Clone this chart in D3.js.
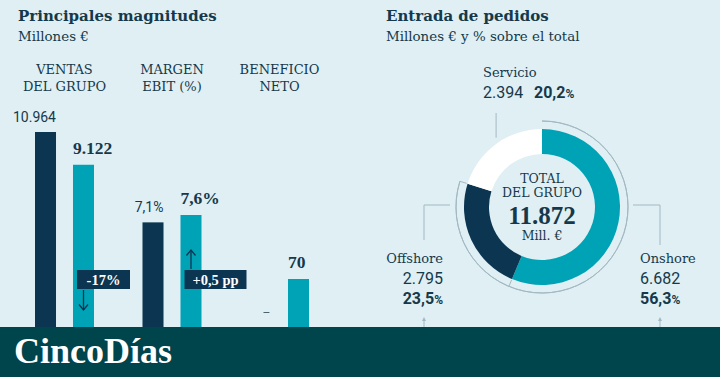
<!DOCTYPE html>
<html>
<head>
<meta charset="utf-8">
<script src="https://cdn.jsdelivr.net/npm/d3@7"></script>
<style>
  body { margin: 0; background: #dfeff4; }
  svg { display: block; }
</style>
</head>
<body>
<div id="chart"></div>
<script>
// datos: principales magnitudes
const categories = ["VENTAS|DEL GRUPO", "MARGEN|EBIT (%)", "BENEFICIO|NETO"];
const prevValues = [10964, 7.1, null];
const currValues = [9122, 7.6, 70];
const prevLabels = ["10.964", "7,1%", "–"];
const currLabels = ["9.122", "7,6%", "70"];
const changes = ["-17%", "+0,5 pp", null];
const changeDir = ["down", "up", null];

// datos: entrada de pedidos
const segments = ["Onshore", "Offshore", "Servicio"];
const segValues = [6682, 2795, 2394];
const segLabels = ["6.682", "2.795", "2.394"];
const segPct = ["56,3", "23,5", "20,2"];
const totalLabel = "11.872";

const W = 720, H = 377;
const dark = "#0b3551", teal = "#00a2b5", ink = "#15394a", grey = "#a3b9c1";
const serif = "'DejaVu Serif', serif";
const boldSerif = "'Liberation Serif', serif";
const sans = "Roboto, 'Open Sans', sans-serif";

const svg = d3.select("#chart").append("svg")
  .attr("width", W)
  .attr("height", H);

svg.append("rect").attr("width", W).attr("height", H).attr("fill", "#dfeff4");

// titulos
function heading(x, title, sub) {
  svg.append("text").attr("x", x).attr("y", 21)
    .style("font-family", serif).style("font-weight", "bold").style("font-size", "15px")
    .attr("fill", ink).text(title);
  svg.append("text").attr("x", x).attr("y", 41)
    .style("font-family", serif).style("font-size", "13.4px")
    .attr("fill", ink).text(sub);
}
heading(18, "Principales magnitudes", "Millones €");
heading(386, "Entrada de pedidos", "Millones € y % sobre el total");

// ---- barras ----
const baseY = 327;
const groupHeights = [195, 112, 48]; // altura del valor maximo de cada grupo
const badgeWidths = [53, 62];

const x0 = d3.scaleBand().domain(categories).range([10.75, 333.25]).padding(0);
const x1 = d3.scaleBand().domain(["prev", "curr"])
  .range([x0.bandwidth() / 2 - 29.5, x0.bandwidth() / 2 + 29.5])
  .paddingInner(0.447).paddingOuter(0);

const yScales = categories.map((c, i) => {
  const max = d3.max([prevValues[i], currValues[i]]);
  return d3.scaleLinear().domain([0, max]).range([baseY, baseY - groupHeights[i]]);
});

const groups = svg.selectAll(".grp")
  .data(categories)
  .enter().append("g")
  .attr("class", "grp")
  .attr("transform", d => "translate(" + x0(d) + ",0)");

// etiquetas de categoria
groups.each(function(d) {
  const parts = d.split("|");
  d3.select(this).selectAll(".cat")
    .data(parts).enter().append("text")
    .attr("x", x0.bandwidth() / 2)
    .attr("y", (l, j) => 74 + j * 17)
    .attr("text-anchor", "middle")
    .style("font-family", serif).style("font-size", "13px")
    .attr("fill", ink).text(l => l);
});

groups.each(function(d, i) {
  const g = d3.select(this);
  const y = yScales[i];
  const bw = x1.bandwidth();

  if (prevValues[i] != null) {
    g.append("rect")
      .attr("x", x1("prev")).attr("y", y(prevValues[i]))
      .attr("width", bw).attr("height", baseY - y(prevValues[i]))
      .attr("fill", dark);
    g.append("text")
      .attr("x", x1("prev") + bw).attr("y", y(prevValues[i]) - 10)
      .attr("text-anchor", "end")
      .style("font-family", sans).style("font-size", "14px")
      .attr("fill", ink).text(prevLabels[i]);
  } else {
    g.append("text")
      .attr("x", x1("prev") + bw / 2 + 6).attr("y", baseY - 10)
      .attr("text-anchor", "middle")
      .style("font-family", sans).style("font-size", "12px")
      .attr("fill", "#4a6470").text(prevLabels[i]);
  }

  g.append("rect")
    .attr("x", x1("curr")).attr("y", y(currValues[i]))
    .attr("width", bw).attr("height", baseY - y(currValues[i]))
    .attr("fill", teal);
  g.append("text")
    .attr("x", x1("curr")).attr("y", y(currValues[i]) - 11)
    .style("font-family", boldSerif).style("font-weight", "bold").style("font-size", "17.5px")
    .attr("fill", ink).text(currLabels[i]);

  if (changes[i]) {
    const bx = x1("curr") + 4;
    const tw = badgeWidths[i];
    g.append("rect")
      .attr("x", bx).attr("y", 270)
      .attr("width", tw).attr("height", 19)
      .attr("fill", dark);
    g.append("text")
      .attr("x", bx + tw / 2).attr("y", 284.5)
      .attr("text-anchor", "middle")
      .style("font-family", boldSerif).style("font-weight", "bold").style("font-size", "14.5px")
      .attr("fill", "#fff").text(changes[i]);

    const ax = x1("curr") + 10.5;
    const arrow = g.append("g").attr("stroke", dark).attr("stroke-width", 1.3).attr("fill", "none");
    if (changeDir[i] === "down") {
      arrow.append("line").attr("x1", ax).attr("x2", ax).attr("y1", 290).attr("y2", 310);
      arrow.append("path").attr("d", "M" + (ax - 4.5) + ",304.5L" + ax + ",310L" + (ax + 4.5) + ",304.5");
    } else {
      arrow.append("line").attr("x1", ax).attr("x2", ax).attr("y1", 269).attr("y2", 250);
      arrow.append("path").attr("d", "M" + (ax - 4.5) + ",255.5L" + ax + ",250L" + (ax + 4.5) + ",255.5");
    }
  }
});

// ---- donut ----
const cx = 542, cy = 207, rOut = 78, rIn = 53, rRing = 86;
const segColors = [teal, dark, "#ffffff"];

const pie = d3.pie().sort(null).value(d => d);
const arcs = pie(segValues);
const arc = d3.arc().innerRadius(rIn).outerRadius(rOut);

const donut = svg.append("g").attr("transform", "translate(" + cx + "," + cy + ")");

donut.selectAll("path.seg")
  .data(arcs).enter().append("path")
  .attr("class", "seg")
  .attr("d", arc)
  .attr("fill", (d, i) => segColors[i]);

// anillo fino alrededor de onshore + offshore
const ring = d3.arc().innerRadius(rRing).outerRadius(rRing)
  .startAngle(0).endAngle(arcs[1].endAngle);
donut.append("path").attr("d", ring()).attr("fill", "none")
  .attr("stroke", grey).attr("stroke-width", 1);
[arcs[0].endAngle, arcs[1].endAngle].forEach(a => {
  donut.append("line")
    .attr("x1", Math.sin(a) * (rOut + 1)).attr("y1", -Math.cos(a) * (rOut + 1))
    .attr("x2", Math.sin(a) * rRing).attr("y2", -Math.cos(a) * rRing)
    .attr("stroke", grey).attr("stroke-width", 1);
});

// texto central
const center = [
  { t: "TOTAL", y: -24, s: 12.5, b: false },
  { t: "DEL GRUPO", y: -10, s: 12.5, b: false },
  { t: totalLabel, y: 17, s: 25, b: true },
  { t: "Mill. €", y: 33, s: 12.5, b: false }
];
donut.selectAll("text.ctr")
  .data(center).enter().append("text")
  .attr("class", "ctr")
  .attr("x", 0).attr("y", d => d.y)
  .attr("text-anchor", "middle")
  .style("font-family", d => d.b ? boldSerif : serif)
  .style("font-weight", d => d.b ? "bold" : "normal")
  .style("font-size", d => d.s + "px")
  .attr("fill", ink).text(d => d.t);

// conectores
const lines = svg.append("g").attr("stroke", grey).attr("stroke-width", 1).attr("fill", "none");
const midServ = (arcs[2].startAngle + arcs[2].endAngle) / 2;
const sx = cx + Math.sin(midServ) * rRing + 5;
lines.append("path").attr("d", "M" + sx + "," + (cy - Math.cos(midServ) * rRing) + "V113");
lines.append("path").attr("d", "M" + (cx + rRing + 5) + "," + (cy - 2) + "H660V245");
lines.append("path").attr("d", "M" + (cx - rRing - 6) + "," + (cy - 2) + "H424V240");
[424, 660].forEach(px => {
  lines.append("line").attr("x1", px).attr("x2", px).attr("y1", 319).attr("y2", 327);
  svg.append("path").attr("d", "M" + (px - 2) + ",321L" + px + ",317L" + (px + 2) + ",321Z").attr("fill", grey);
});

// etiquetas de segmentos
function segLabel(i, x, anchor, y0, inline) {
  const g = svg.append("g").attr("text-anchor", anchor);
  g.append("text").attr("x", x).attr("y", y0)
    .style("font-family", serif).style("font-size", "13px")
    .attr("fill", ink).text(segments[i]);
  g.append("text").attr("x", x).attr("y", y0 + 21)
    .style("font-family", sans).style("font-size", "16px")
    .attr("fill", ink).text(segLabels[i]);
  const p = g.append("text")
    .attr("x", inline ? x + 51 : x).attr("y", inline ? y0 + 21 : y0 + 41)
    .style("font-family", sans).style("font-weight", "bold").style("font-size", "16px")
    .attr("fill", ink);
  p.append("tspan").text(segPct[i]);
  p.append("tspan").style("font-size", "12px").text("%");
}
segLabel(2, 483, "start", 77, true);
segLabel(1, 443, "end", 263, false);
segLabel(0, 640, "start", 263, false);

// pie de pagina
svg.append("rect").attr("x", 0).attr("y", 327).attr("width", W).attr("height", 50).attr("fill", "#00444c");
svg.append("text").attr("x", 14).attr("y", 363)
  .style("font-family", boldSerif).style("font-weight", "bold").style("font-size", "36px")
  .attr("fill", "#fff").text("CincoDías");
</script>
</body>
</html>
